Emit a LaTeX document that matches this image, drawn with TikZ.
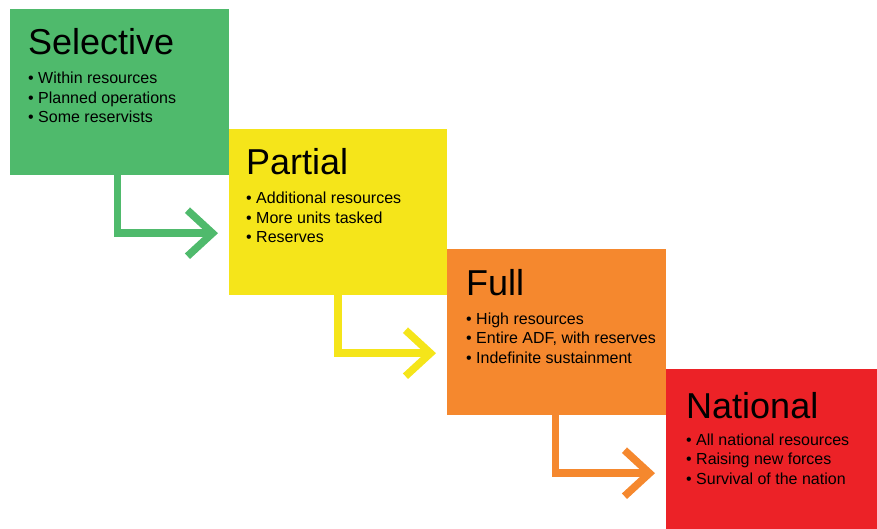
\documentclass[tikz,border=0pt]{standalone}
\usepackage{fontspec}
\setmainfont{Liberation Sans}
\usetikzlibrary{arrows.meta, positioning, calc}
\definecolor{selgreen}{RGB}{79,186,108}
\definecolor{paryellow}{RGB}{245,229,26}
\definecolor{fulorange}{RGB}{245,136,46}
\definecolor{natred}{RGB}{236,34,39}
\tikzset{
  lvl/.style={rectangle, inner sep=0pt, anchor=north west,
    minimum width=219pt, minimum height=166pt},
  ttl/.style={anchor=base west, inner sep=0pt, font=\fontsize{36}{40}\selectfont},
  pts/.style={anchor=base west, inner sep=0pt, align=left,
    font=\fontsize{16}{19.5}\selectfont},
  arrow/.style={-{Straight Barb[length=25pt,width=46pt]}, line width=7.5pt,
    line join=miter, shorten >=11pt}
}
\newcommand{\itm}{\textbullet\ }

\begin{document}
\begin{tikzpicture}[x=1pt, y=-1pt]
  \useasboundingbox (0,0) rectangle (877,529);
  % levels
  \node[lvl, fill=selgreen] (sel) at (10,9) {};
  \node[lvl, fill=paryellow, minimum width=218pt] (par) at (229,129) {};
  \node[lvl, fill=fulorange] (ful) at (447,249) {};
  \node[lvl, fill=natred, minimum width=211pt, minimum height=160pt] (nat) at (666,369) {};
  % texts (base of a list node is its last line)
  \node[ttl] (selt) at ([xshift=18pt, yshift=-46pt]sel.north west) {Selective};
  \node[pts] (selp) at ([yshift=-68pt]selt.base west) {\itm Within resources\\\itm Planned operations\\\itm Some reservists};
  \node[ttl] (part) at ([xshift=17pt, yshift=-46pt]par.north west) {Partial};
  \node[pts] (parp) at ([yshift=-68pt]part.base west) {\itm Additional resources\\\itm More units tasked\\\itm Reserves};
  \node[ttl] (fult) at ([xshift=19pt, yshift=-46pt]ful.north west) {Full};
  \node[pts] (fulp) at ([yshift=-68pt]fult.base west) {\itm High resources\\\itm Entire ADF, with reserves\\\itm Indefinite sustainment};
  \node[ttl] (natt) at ([xshift=20pt, yshift=-49pt]nat.north west) {National};
  \node[pts] (natp) at ([yshift=-66pt]natt.base west) {\itm All national resources\\\itm Raising new forces\\\itm Survival of the nation};
  % steps
  \draw[arrow, selgreen] ([xshift=-2pt]sel.south) |- ([yshift=-21pt]par.west);
  \draw[arrow, paryellow] (par.south) |- ([yshift=-21pt]ful.west);
  \draw[arrow, fulorange] ([xshift=-1pt]ful.south) |- ([yshift=-24pt]nat.west);
\end{tikzpicture}
\end{document}
